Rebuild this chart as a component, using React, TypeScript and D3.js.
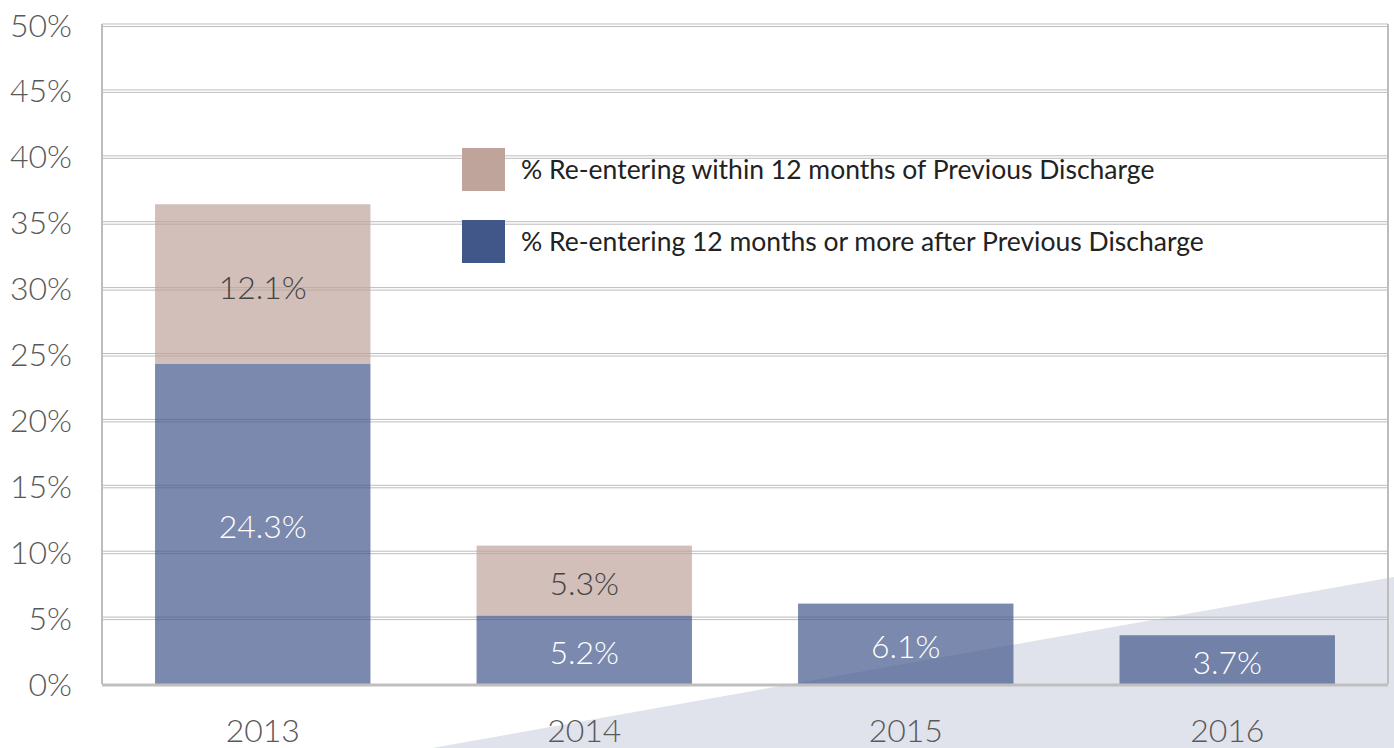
import React from "react";
import * as d3 from "d3";

const years = ["2013", "2014", "2015", "2016"];
const afterTwelve = [24.3, 5.2, 6.1, 3.7];
const withinTwelve = [12.1, 5.3, 0, 0];
const yTicks = [0, 5, 10, 15, 20, 25, 30, 35, 40, 45, 50];
const legendLabels = [
  "% Re-entering within 12 months of Previous Discharge",
  "% Re-entering 12 months or more after Previous Discharge",
];

const W = 1394;
const H = 748;
const margin = { top: 25, right: 6, bottom: 64, left: 102 };
const FONT = "Lato, 'Open Sans', sans-serif";
const BLUE = "#41578a";
const PINK = "#bfa49b";

export default function App() {
  const x = d3
    .scaleBand<string>()
    .domain(years)
    .range([margin.left, W - margin.right])
    .paddingInner(0.33)
    .paddingOuter(0.165);
  const y = d3
    .scaleLinear()
    .domain([0, 50])
    .range([H - margin.bottom, margin.top]);

  const stacked = d3.stack<number>().keys(["after", "within"]).value((i, key) =>
    key === "after" ? afterTwelve[i] : withinTwelve[i]
  )(years.map((_, i) => i));

  const colors = [BLUE, PINK];
  const textColors = ["#ffffff", "#444444"];
  const x0 = margin.left;
  const x1 = W - margin.right;

  // background wedge in the lower right corner
  const wedge = d3.line()([
    [432, H],
    [W, 577],
    [W, H],
  ]);

  return (
    <div style={{ position: "absolute", left: 0, top: 0, width: W, height: H, overflow: "hidden" }}>
      <svg width={W} height={H} style={{ display: "block", fontFamily: FONT, fontWeight: 300 }}>
        <rect width={W} height={H} fill="#fff" />
        <path d={wedge + "Z"} fill="#e0e3ec" />

        {yTicks.map((t) => (
          <g key={t}>
            {t > 0 && (
              <>
                <line x1={x0} x2={x1} y1={y(t) - 1} y2={y(t) - 1} stroke="#bdbdbd" strokeWidth={1} />
                <line x1={x0} x2={x1} y1={y(t) + 1.5} y2={y(t) + 1.5} stroke="#bdbdbd" strokeWidth={1} />
              </>
            )}
            <text
              x={72}
              y={y(t)}
              dy="0.36em"
              textAnchor="end"
              fontSize={32}
              fill="#595959"
            >
              {t}%
            </text>
          </g>
        ))}
        <line x1={x0} x2={x0} y1={y(50) - 1} y2={y(0)} stroke="#bdbdbd" strokeWidth={2} />
        <line x1={x1} x2={x1} y1={y(50) - 1} y2={y(0)} stroke="#bdbdbd" strokeWidth={2} />

        {stacked.map((series, si) =>
          series.map((d, i) =>
            d[1] - d[0] > 0 ? (
              <g key={`${si}-${i}`}>
                <rect
                  x={x(years[i])}
                  width={x.bandwidth()}
                  y={y(d[1])}
                  height={y(d[0]) - y(d[1])}
                  fill={colors[si]}
                  fillOpacity={0.7}
                />
                <text
                  x={(x(years[i]) as number) + x.bandwidth() / 2}
                  y={y((d[0] + d[1]) / 2) + 3}
                  dy="0.36em"
                  textAnchor="middle"
                  fontSize={32}
                  fill={textColors[si]}
                >
                  {(d[1] - d[0]).toFixed(1)}%
                </text>
              </g>
            ) : null
          )
        )}

        <line x1={x0} x2={x1} y1={y(0) + 1} y2={y(0) + 1} stroke="#bfbfbf" strokeWidth={3} />

        {years.map((yr) => (
          <text
            key={yr}
            x={(x(yr) as number) + x.bandwidth() / 2}
            y={730}
            dy="0.36em"
            textAnchor="middle"
            fontSize={32}
            fill="#595959"
          >
            {yr}
          </text>
        ))}

        {legendLabels.map((lab, i) => (
          <g key={lab} transform={`translate(462,${148 + i * 72})`}>
            <rect width={43} height={43} fill={i === 0 ? PINK : BLUE} />
            <text x={59} y={21.5} dy="0.36em" fontSize={26.5} fontWeight={400} fill="#222">
              {lab}
            </text>
          </g>
        ))}
      </svg>
    </div>
  );
}
